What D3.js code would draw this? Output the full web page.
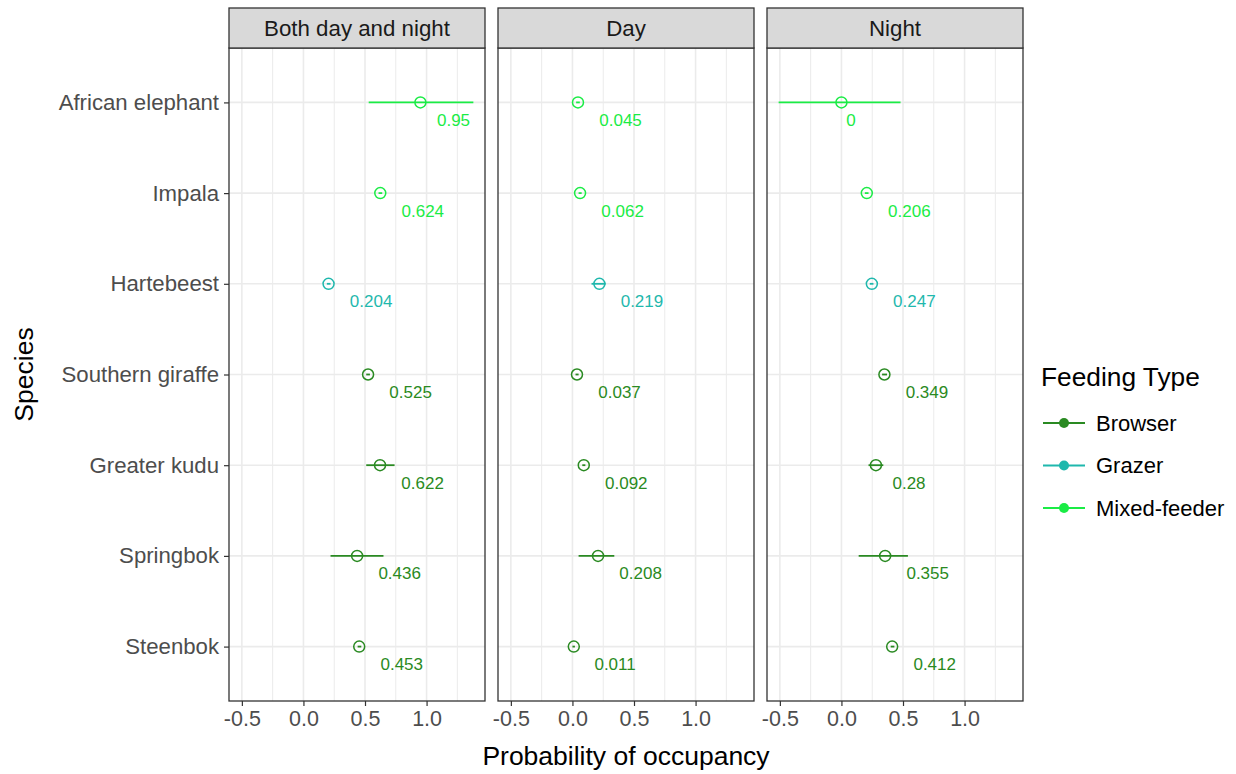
<!DOCTYPE html>
<html lang="en">
<head>
    <meta charset="utf-8">
    <title>Probability of occupancy</title>
    <style>
        body { margin: 0; background: #fff; }
        svg text { font-family: "Liberation Sans", Arial, sans-serif; }
    </style>
</head>
<body>
    <svg id="chart" width="1236" height="774"></svg>
    <script src="https://cdn.jsdelivr.net/npm/d3@7"></script>
    <script>
        var species = ["African elephant", "Impala", "Hartebeest", "Southern giraffe", "Greater kudu", "Springbok", "Steenbok"];
        var feeding = ["Mixed-feeder", "Mixed-feeder", "Grazer", "Browser", "Browser", "Browser", "Browser"];
        var periods = ["Both day and night", "Day", "Night"];
        var feedTypes = ["Browser", "Grazer", "Mixed-feeder"];

        var estBoth = [0.95, 0.624, 0.204, 0.525, 0.622, 0.436, 0.453];
        var lowBoth = [0.53, 0.61, 0.19, 0.51, 0.51, 0.22, 0.44];
        var upBoth  = [1.38, 0.64, 0.22, 0.54, 0.74, 0.65, 0.47];

        var estDay = [0.045, 0.062, 0.219, 0.037, 0.092, 0.208, 0.011];
        var lowDay = [0.03, 0.05, 0.155, 0.025, 0.08, 0.05, 0.0];
        var upDay  = [0.06, 0.075, 0.27, 0.05, 0.105, 0.34, 0.02];

        var estNight = [0, 0.206, 0.247, 0.349, 0.28, 0.355, 0.412];
        var lowNight = [-0.51, 0.19, 0.23, 0.33, 0.22, 0.14, 0.40];
        var upNight  = [0.48, 0.22, 0.26, 0.37, 0.34, 0.54, 0.43];

        var xTicks = [-0.5, 0, 0.5, 1.0];
        var xMinor = [-0.25, 0.25, 0.75, 1.25];

        var est = [estBoth, estDay, estNight];
        var low = [lowBoth, lowDay, lowNight];
        var up = [upBoth, upDay, upNight];

        var color = d3.scaleOrdinal()
            .domain(feedTypes)
            .range(["#2a8a22", "#1fb8ad", "#1aec45"]);

        var svg = d3.select("#chart");

        var panelW = 256, gap = 13, left0 = 229;
        var plotTop = 48, plotBottom = 701, stripTop = 8;

        // x domain from data with 5% expansion like ggplot
        var lo = d3.min(low, function(a) { return d3.min(a); });
        var hi = d3.max(up, function(a) { return d3.max(a); });
        var pad = (hi - lo) * 0.05;

        var y = d3.scalePoint()
            .domain(species)
            .range([plotTop, plotBottom])
            .padding(0.6);

        periods.forEach(function(p, k) {
            var x0 = left0 + k * (panelW + gap);
            var x = d3.scaleLinear()
                .domain([lo - pad, hi + pad])
                .range([x0, x0 + panelW]);

            var g = svg.append("g");

            // minor grid
            g.selectAll("line.minor")
                .data(xMinor)
                .enter()
                .append("line")
                .attr("x1", function(d) { return x(d); })
                .attr("x2", function(d) { return x(d); })
                .attr("y1", plotTop).attr("y2", plotBottom)
                .attr("stroke", "#ebebeb")
                .attr("stroke-width", 1);

            // major grid
            g.selectAll("line.vmajor")
                .data(xTicks)
                .enter()
                .append("line")
                .attr("x1", function(d) { return x(d); })
                .attr("x2", function(d) { return x(d); })
                .attr("y1", plotTop).attr("y2", plotBottom)
                .attr("stroke", "#ebebeb")
                .attr("stroke-width", 1.6);

            g.selectAll("line.hmajor")
                .data(species)
                .enter()
                .append("line")
                .attr("x1", x0).attr("x2", x0 + panelW)
                .attr("y1", function(d) { return y(d); })
                .attr("y2", function(d) { return y(d); })
                .attr("stroke", "#ebebeb")
                .attr("stroke-width", 1.6);

            var rows = species.map(function(s, i) {
                return { sp: s, f: feeding[i], v: est[k][i], l: low[k][i], u: up[k][i] };
            });

            // error bars
            g.selectAll("line.err")
                .data(rows)
                .enter()
                .append("line")
                .attr("x1", function(d) { return x(d.l); })
                .attr("x2", function(d) { return x(d.u); })
                .attr("y1", function(d) { return y(d.sp); })
                .attr("y2", function(d) { return y(d.sp); })
                .attr("stroke", function(d) { return color(d.f); })
                .attr("stroke-width", 1.8);

            // hollow points
            g.selectAll("circle")
                .data(rows)
                .enter()
                .append("circle")
                .attr("cx", function(d) { return x(d.v); })
                .attr("cy", function(d) { return y(d.sp); })
                .attr("r", 5.5)
                .attr("fill", "none")
                .attr("stroke", function(d) { return color(d.f); })
                .attr("stroke-width", 1.5);

            // value labels (hjust = -0.5)
            g.selectAll("text.val")
                .data(rows)
                .enter()
                .append("text")
                .attr("class", "val")
                .text(function(d) { return String(d.v); })
                .attr("x", function(d) { return x(d.v); })
                .attr("y", function(d) { return y(d.sp) + 23.5; })
                .attr("font-size", "17px")
                .attr("fill", function(d) { return color(d.f); })
                .each(function() {
                    var w = this.getComputedTextLength();
                    d3.select(this).attr("dx", w / 2);
                });

            // panel border
            g.append("rect")
                .attr("x", x0).attr("y", plotTop)
                .attr("width", panelW).attr("height", plotBottom - plotTop)
                .attr("fill", "none")
                .attr("stroke", "#333333")
                .attr("stroke-width", 1.3);

            // strip
            g.append("rect")
                .attr("x", x0).attr("y", stripTop)
                .attr("width", panelW).attr("height", plotTop - stripTop)
                .attr("fill", "#d9d9d9")
                .attr("stroke", "#333333")
                .attr("stroke-width", 1.3);

            g.append("text")
                .text(p)
                .attr("x", x0 + panelW / 2)
                .attr("y", (stripTop + plotTop) / 2 + 7.5)
                .attr("text-anchor", "middle")
                .attr("font-size", "22.3px")
                .attr("fill", "#1a1a1a");

            // x axis
            var xAxis = d3.axisBottom(x)
                .tickValues(xTicks)
                .tickSize(5)
                .tickPadding(5)
                .tickFormat(function(d) { return d3.format(".1f")(d).replace("\u2212", "-"); });

            var ax = g.append("g")
                .attr("transform", "translate(0," + plotBottom + ")")
                .call(xAxis);
            ax.select(".domain").remove();
            ax.selectAll(".tick line").attr("stroke", "#333333").attr("stroke-width", 1.2);
            ax.selectAll(".tick text")
                .attr("font-size", "21.5px")
                .attr("font-family", "Liberation Sans, Arial, sans-serif")
                .attr("fill", "#4d4d4d");

            if (k === 0) {
                var yAxis = d3.axisLeft(y).tickSize(5).tickPadding(5);
                var ay = g.append("g")
                    .attr("transform", "translate(" + x0 + ",0)")
                    .call(yAxis);
                ay.select(".domain").remove();
                ay.selectAll(".tick line").attr("stroke", "#333333").attr("stroke-width", 1.2);
                ay.selectAll(".tick text")
                    .attr("font-size", "22.2px")
                    .attr("font-family", "Liberation Sans, Arial, sans-serif")
                    .attr("fill", "#4d4d4d");
            }
        });

        // axis titles
        svg.append("text")
            .text("Probability of occupancy")
            .attr("x", (left0 + left0 + 3 * panelW + 2 * gap) / 2)
            .attr("y", 765)
            .attr("text-anchor", "middle")
            .attr("font-size", "26.5px")
            .attr("fill", "#000");

        svg.append("text")
            .text("Species")
            .attr("transform", "translate(33," + (plotTop + plotBottom) / 2 + ") rotate(-90)")
            .attr("text-anchor", "middle")
            .attr("font-size", "26.5px")
            .attr("fill", "#000");

        // legend
        var leg = svg.append("g").attr("transform", "translate(1041,0)");
        leg.append("text")
            .text("Feeding Type")
            .attr("x", 0).attr("y", 386)
            .attr("font-size", "26.3px")
            .attr("fill", "#000");

        var items = leg.selectAll("g.item")
            .data(feedTypes)
            .enter()
            .append("g")
            .attr("transform", function(d, i) { return "translate(0," + (423 + i * 42.5) + ")"; });

        items.append("line")
            .attr("x1", 2).attr("x2", 44)
            .attr("stroke", function(d) { return color(d); })
            .attr("stroke-width", 1.8);
        items.append("circle")
            .attr("cx", 23).attr("r", 5)
            .attr("fill", function(d) { return color(d); });
        items.append("text")
            .text(function(d) { return d; })
            .attr("x", 55).attr("y", 7.5)
            .attr("font-size", "22px")
            .attr("fill", "#000");
    </script>
</body>
</html>
